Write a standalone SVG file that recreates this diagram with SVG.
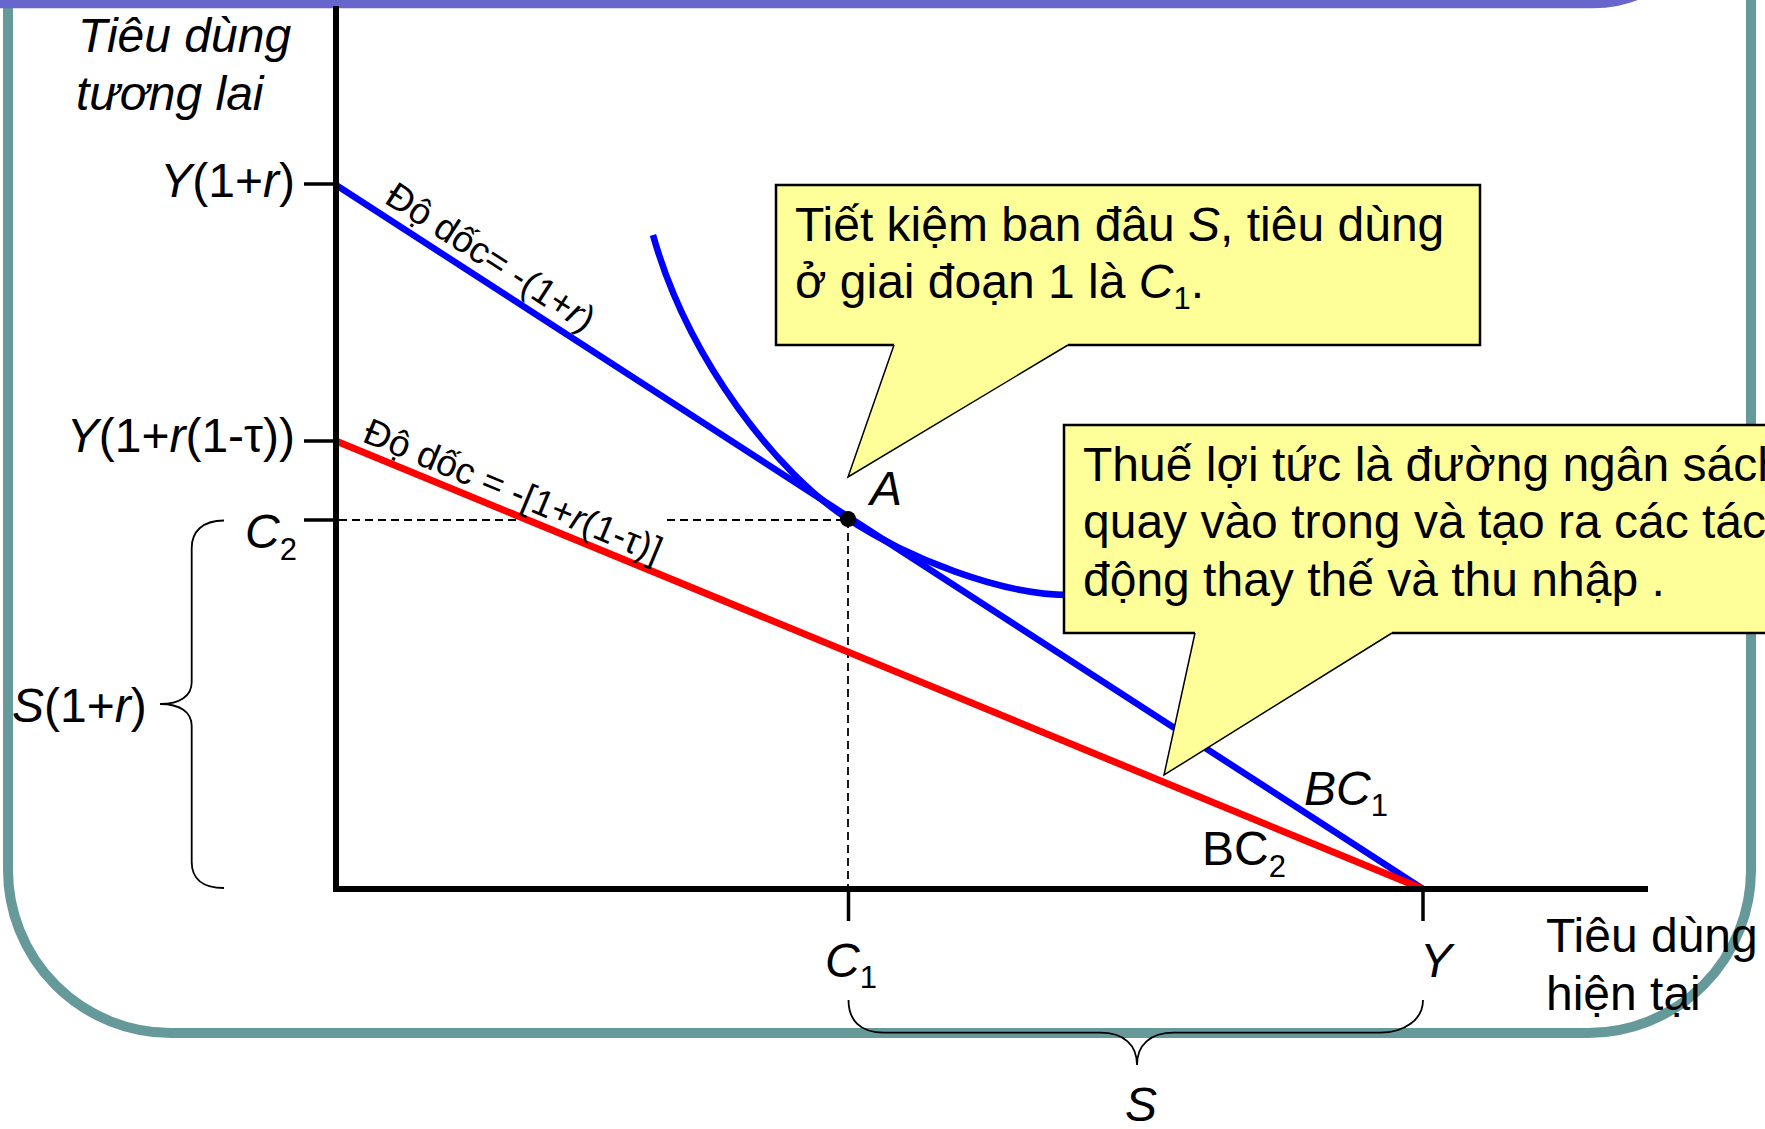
<svg xmlns="http://www.w3.org/2000/svg" width="1765" height="1129" viewBox="0 0 1765 1129">
<style>
text { font-family: "Liberation Sans", Arial, sans-serif; fill:#000; }
.lbl { font-size:48px; }
.box { font-size:48px; }
.slope { font-size:37px; }
.it { font-style:italic; }
.sub { font-size:31px; }
.tick { stroke:#000; stroke-width:3.5; }
.axis { stroke:#000; stroke-width:6; }
.dash { stroke:#000; stroke-width:1.8; stroke-dasharray:8 5; fill:none; }
.callout { fill:#FFFF99; stroke:none; }
.edge { fill:none; stroke:#000; stroke-width:2.5; }
.tail { fill:none; stroke:#000; stroke-width:1.5; stroke-linejoin:miter; }
.brace { fill:none; stroke:#000; stroke-width:1.8; }
</style>

<g id="frame">
  <rect x="8" y="-300" width="1743" height="1333" rx="163" ry="163" fill="none" stroke="#669999" stroke-width="10"/>
  <rect x="-200" y="-400" width="1919" height="408.3" rx="126" ry="126" fill="#6666CC"/>
</g>

<g id="connectors">
  <path class="dash" d="M339,520 L524,520 M667,520 L848,520 M848,520 L848,886"/>
  <line id="bc1" x1="336" y1="185" x2="1423" y2="889" stroke="#0000FF" stroke-width="6.5"/>
  <line id="bc2" x1="336" y1="441" x2="1423" y2="889" stroke="#FF0000" stroke-width="7"/>
  <path id="indifference" d="M653,235 C688,360 778,474 848,519 C908,558 1000,595 1070,595" fill="none" stroke="#0000FF" stroke-width="6.5"/>
</g>

<g id="axes">
  <line class="axis" x1="336" y1="6" x2="336" y2="892"/>
  <line class="axis" x1="333" y1="889" x2="1648" y2="889"/>
  <line class="tick" x1="304" y1="184" x2="336" y2="184"/>
  <line class="tick" x1="304" y1="441" x2="336" y2="441"/>
  <line class="tick" x1="304" y1="520" x2="336" y2="520"/>
  <line class="tick" x1="848.5" y1="889" x2="848.5" y2="921"/>
  <line class="tick" x1="1423" y1="889" x2="1423" y2="921"/>
</g>

<g id="point-A">
  <circle cx="848" cy="519" r="8" fill="#000"/>
  <text class="lbl it" x="870" y="505">A</text>
</g>

<g id="callout-1">
  <path class="callout" d="M776,185 L1480,185 L1480,345 L1068,345 L848,477 L894,345 L776,345 Z"/>
  <path class="edge" d="M894,345 L776,345 L776,185 L1480,185 L1480,345 L1068,345"/>
  <path class="tail" d="M894,345 L848,477 L1068,345"/>
  <text class="box" x="795" y="241">Tiết kiệm ban đâu <tspan class="it">S</tspan>, tiêu dùng</text>
  <text class="box" x="795" y="298">ở giai đoạn 1 là <tspan class="it">C</tspan><tspan class="sub" dy="11">1</tspan><tspan dy="-11">.</tspan></text>
</g>

<g id="callout-2">
  <path class="callout" d="M1064,425 L1800,425 L1800,633 L1392,633 L1164,775 L1195,633 L1064,633 Z"/>
  <path class="edge" d="M1195,633 L1064,633 L1064,425 L1800,425 L1800,633 L1392,633"/>
  <path class="tail" d="M1195,633 L1164,775 L1392,633"/>
  <text class="box" x="1083" y="481">Thuế lợi tức là đường ngân sách</text>
  <text class="box" x="1083" y="538">quay vào trong và tạo ra các tác</text>
  <text class="box" x="1083" y="596">động thay thế và thu nhập .</text>
</g>

<g id="y-axis-title">
  <text class="lbl it" x="78" y="52">Tiêu dùng</text>
  <text class="lbl it" x="76" y="110">tương lai</text>
</g>

<g id="x-axis-title">
  <text class="lbl" x="1546" y="952">Tiêu dùng</text>
  <text class="lbl" x="1546" y="1010">hiện tại</text>
</g>

<g id="label-Y1r">
  <text class="lbl" x="295" y="197" text-anchor="end"><tspan class="it">Y</tspan>(1+<tspan class="it">r</tspan>)</text>
</g>
<g id="label-Y1rt">
  <text class="lbl" x="295" y="452" text-anchor="end"><tspan class="it">Y</tspan>(1+<tspan class="it">r</tspan>(1-τ))</text>
</g>
<g id="label-C2">
  <text class="lbl" x="245" y="548"><tspan class="it">C</tspan><tspan class="sub" dy="12">2</tspan></text>
</g>
<g id="label-S1r">
  <path class="brace" d="M224,520.5 C202,520.5 191.7,532 191.7,548 L191.7,682 C191.7,696 180,704 160,704 C180,704 191.7,712 191.7,726 L191.7,862 C191.7,878 202,888 224,888"/>
  <text class="lbl" x="12" y="722"><tspan class="it">S</tspan>(1+<tspan class="it">r</tspan>)</text>
</g>
<g id="label-C1">
  <text class="lbl" x="825" y="977"><tspan class="it">C</tspan><tspan class="sub" dy="11">1</tspan></text>
</g>
<g id="label-Y">
  <text class="lbl it" x="1420" y="977">Y</text>
</g>
<g id="label-S">
  <path class="brace" d="M848.5,1000 C848.5,1020 860,1032.7 884,1032.7 L1100,1032.7 C1124,1032.7 1137,1045 1137,1065 C1137,1045 1150,1032.7 1174,1032.7 L1380,1032.7 C1404,1032.7 1423,1020 1423,1000"/>
  <text class="lbl it" x="1125" y="1121">S</text>
</g>
<g id="label-BC1">
  <text class="lbl" x="1304" y="805"><tspan class="it">BC</tspan><tspan class="sub" dy="11">1</tspan></text>
</g>
<g id="label-BC2">
  <text class="lbl" x="1202" y="865">BC<tspan class="sub" dy="12">2</tspan></text>
</g>
<g id="slope-1">
  <text class="slope" transform="translate(383,202) rotate(33)">Độ dốc= -(1+<tspan class="it">r</tspan>)</text>
</g>
<g id="slope-2">
  <text class="slope" transform="translate(361,441) rotate(22.6)">Độ dốc = -[1+<tspan class="it">r</tspan>(1-τ)]</text>
</g>
</svg>
